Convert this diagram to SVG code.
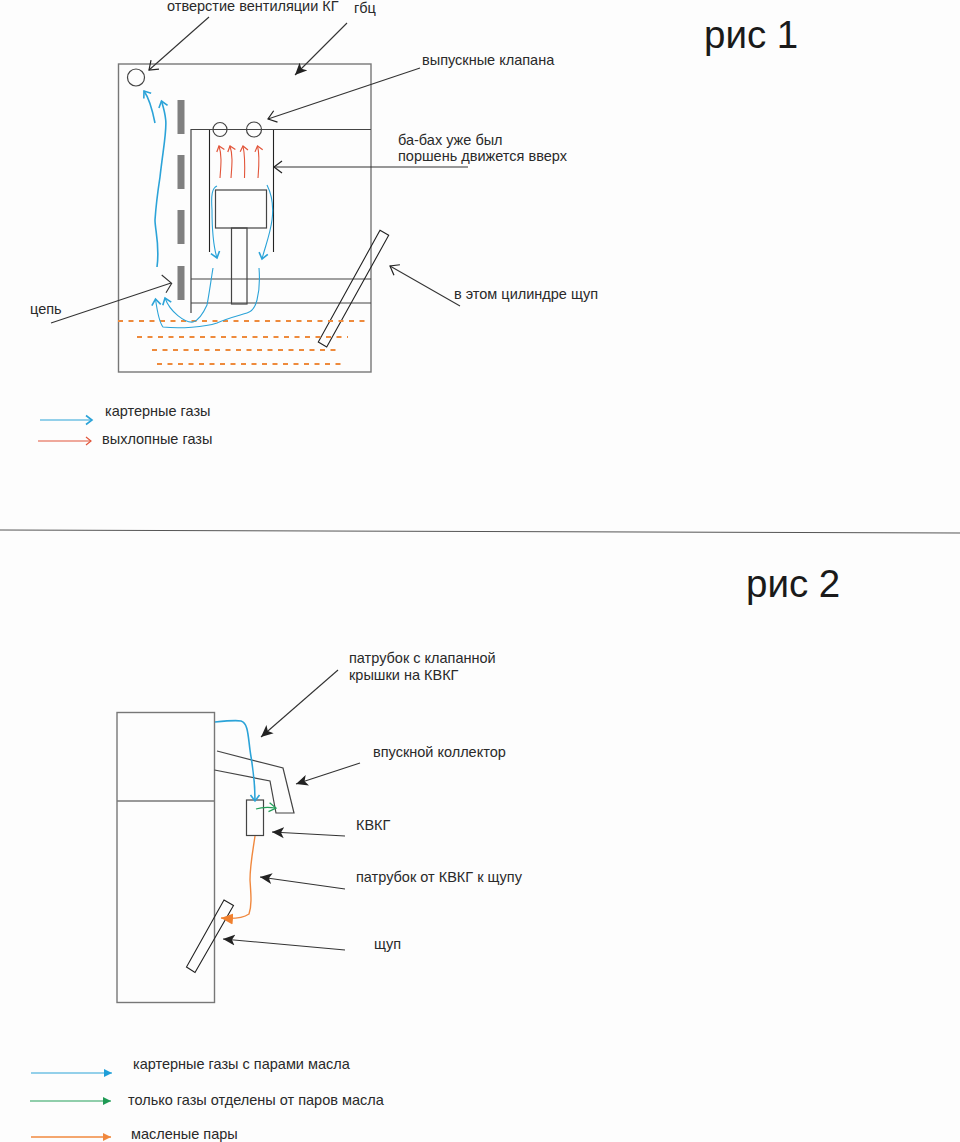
<svg xmlns="http://www.w3.org/2000/svg" width="960" height="1142" viewBox="0 0 960 1142">
<style>
text{font-family:"Liberation Sans",Arial,sans-serif;font-size:14.5px;fill:#2a2a2a}
.title{font-size:38.5px;fill:#1a1a1a}
.box{fill:none;stroke:#777;stroke-width:1.4}
.ln{fill:none;stroke:#444;stroke-width:1.2}
.dk{fill:none;stroke:#222;stroke-width:1.1}
.ptr{fill:none;stroke:#333;stroke-width:1.1}
.blue{fill:none;stroke:#2ba3d8;stroke-width:1.1}
.blue2{fill:none;stroke:#2ba3d8;stroke-width:1.6}
.red{fill:none;stroke:#e2553a;stroke-width:1.1}
.green{fill:none;stroke:#25a05a;stroke-width:1.2}
.orange{fill:none;stroke:#f0883e;stroke-width:1.4}
.oil{fill:none;stroke:#ee8a3c;stroke-width:2.2;stroke-dasharray:5 5.5}
.bar{fill:#808080}
</style>
<defs>
<marker id="tip" markerUnits="userSpaceOnUse" markerWidth="14" markerHeight="12" refX="12" refY="6" orient="auto"><path d="M0,0.5 L12,6 L0,11.5 L3,6 Z" fill="#222"/></marker>
<marker id="open" markerUnits="userSpaceOnUse" markerWidth="14" markerHeight="14" refX="11" refY="7" orient="auto"><path d="M3,1 L11,7 L3,13" fill="none" stroke="#222" stroke-width="1.2"/></marker>
<marker id="ob" markerUnits="userSpaceOnUse" markerWidth="12" markerHeight="12" refX="9" refY="6" orient="auto"><path d="M3,1.5 L9,6 L3,10.5" fill="none" stroke="#2ba3d8" stroke-width="1.6"/></marker>
<marker id="or" markerUnits="userSpaceOnUse" markerWidth="10" markerHeight="10" refX="7" refY="5" orient="auto"><path d="M2,1 L7,5 L2,9" fill="none" stroke="#e2553a" stroke-width="1.2"/></marker>
<marker id="og" markerUnits="userSpaceOnUse" markerWidth="12" markerHeight="12" refX="9" refY="6" orient="auto"><path d="M2,1.5 L9,6 L2,10.5" fill="none" stroke="#25a05a" stroke-width="1.3"/></marker>
<marker id="fb" markerUnits="userSpaceOnUse" markerWidth="10" markerHeight="10" refX="8" refY="5" orient="auto"><path d="M0,1 L8,5 L0,9 Z" fill="#1f9ed8"/></marker>
<marker id="fg" markerUnits="userSpaceOnUse" markerWidth="10" markerHeight="10" refX="8" refY="5" orient="auto"><path d="M0,1 L8,5 L0,9 Z" fill="#1f9a55"/></marker>
<marker id="fo" markerUnits="userSpaceOnUse" markerWidth="10" markerHeight="10" refX="8" refY="5" orient="auto"><path d="M0,1 L8,5 L0,9 Z" fill="#f0883e"/></marker>
<marker id="fo2" markerUnits="userSpaceOnUse" markerWidth="14" markerHeight="14" refX="12" refY="7" orient="auto"><path d="M0,1.5 L12,7 L0,12.5 Z" fill="#f0802e"/></marker>
</defs>
<rect width="960" height="1142" fill="#fdfdfd"/>

<g id="engine-1">
<rect class="box" x="118.5" y="64" width="252.5" height="308"/>
<circle class="ln" cx="136" cy="77.5" r="8.5"/>
<rect class="bar" x="177.5" y="100" width="7" height="34"/>
<rect class="bar" x="177.5" y="155" width="7" height="34"/>
<rect class="bar" x="177.5" y="210" width="7" height="34"/>
<rect class="bar" x="177.5" y="266" width="7" height="34"/>
<path class="ln" d="M191,313V129.5H371"/>
<path class="dk" d="M209.5,130V252M273.5,130V252"/>
<circle class="ln" cx="220" cy="129.5" r="7"/>
<circle class="ln" cx="254" cy="129.5" r="7.5"/>
<rect class="ln" x="215.5" y="190" width="51" height="38"/>
<rect class="ln" x="231.5" y="228" width="15.5" height="76"/>
<path class="ln" d="M191,279H371M191,303H371"/>
<polygon class="dk" points="380,230.3 388.7,235.3 326.7,347 318.3,342"/>
</g>

<g id="oil-level">
<path class="oil" d="M118,321H365M137,337H348M152,350H341M157,364H341"/>
</g>

<g id="engine-2">
<rect class="box" x="117" y="712.5" width="97.5" height="290"/>
<path class="box" d="M117,801H214.5"/>
<path class="ln" d="M217,751L283,768L294,813H276L270,781L214.5,770"/>
<rect class="ln" x="246.5" y="800" width="17" height="35.5"/>
<polygon class="dk" points="224,900 233.5,905.5 195,972.5 186.5,967"/>
</g>

<g id="connectors">
<path class="ptr" marker-end="url(#open)" d="M209,17L149,70"/>
<path class="ptr" marker-end="url(#tip)" d="M347,23L295,75"/>
<path class="ptr" marker-end="url(#open)" d="M420,68L268,119"/>
<path class="ptr" marker-end="url(#open)" d="M468,167H274"/>
<path class="ptr" marker-end="url(#open)" d="M460,306L390,266"/>
<path class="ptr" d="M51,323L171,283M161.7,275L171.7,283.3L166,292.7"/>

<path class="blue2" marker-end="url(#ob)" d="M155,123C152,108 149,98 144,91"/>
<path class="blue2" marker-end="url(#ob)" d="M157,267C160,245 155,230 155,220C156,205 158,190 160,177C163,150 167,130 165.7,120C165,112 163,106 161.5,101"/>
<path class="blue" marker-end="url(#ob)" d="M217,186C212,188 211,195 212,210C212,225 213,245 217,258"/>
<path class="blue" marker-end="url(#ob)" d="M267,185C272,195 274,205 272,220C270,235 265,247 262,259"/>
<path class="blue" marker-end="url(#ob)" d="M213,268C211,280 209,295 207,305C202,316 197,321 193,322C185,323 170,312 165,298"/>
<path class="blue" marker-end="url(#ob)" d="M259,268C260,280 259,292 257,300C255,308 251,312 247,313C237,316 228,318 217,323C205,327 180,329 163,327C159,322 157,310 155.5,299"/>

<path class="red" marker-end="url(#or)" d="M220,178C221,165 222,155 219,146"/>
<path class="red" marker-end="url(#or)" d="M231,178C232,165 233,155 230,146"/>
<path class="red" marker-end="url(#or)" d="M244.500,178C245,165 245,155 243,146"/>
<path class="red" marker-end="url(#or)" d="M258,178C259,165 260,155 257.500,146"/>

<path class="blue" marker-end="url(#ob)" d="M40,420H92"/>
<path class="red" marker-end="url(#or)" d="M38,441H91"/>

<path class="ptr" marker-end="url(#tip)" d="M338,670L261,737"/>
<path class="ptr" marker-end="url(#tip)" d="M360,763L296,784"/>
<path class="ptr" marker-end="url(#tip)" d="M345,836L272,832"/>
<path class="ptr" marker-end="url(#tip)" d="M345,889L260,877"/>
<path class="ptr" marker-end="url(#tip)" d="M345,950L223,939"/>

<path class="blue2" marker-end="url(#ob)" d="M215,722C225,721 236,720 241,721C248,723 248,735 250,750C252,765 255,775 255,801"/>
<path class="green" marker-end="url(#og)" d="M256,809C262,807 268,807 276,808"/>
<path class="orange" marker-end="url(#fo2)" d="M255,836C253,850 250,865 250,880C251,895 252,905 249,914C243,918 232,919 221,918"/>

<path class="blue" marker-end="url(#fb)" d="M31,1073H112"/>
<path class="green" marker-end="url(#fg)" d="M30,1101H111"/>
<path class="orange" marker-end="url(#fo)" d="M31,1137H111"/>

<path fill="none" stroke="#555" stroke-width="1" d="M0,530L960,533"/>
</g>

<g id="labels">
<text class="title" x="704" y="48">рис 1</text>
<text class="title" x="746" y="597">рис 2</text>
<text x="167" y="11">отверстие вентиляции КГ</text>
<text x="354" y="13">гбц</text>
<text x="422" y="65">выпускные клапана</text>
<text x="398" y="145">ба-бах уже был</text>
<text x="398" y="161">поршень движется вверх</text>
<text x="454" y="299">в этом цилиндре щуп</text>
<text x="30" y="314">цепь</text>
<text x="105" y="416">картерные газы</text>
<text x="102" y="444">выхлопные газы</text>
<text x="349" y="663">патрубок с клапанной</text>
<text x="349" y="680">крышки на КВКГ</text>
<text x="373" y="757">впускной коллектор</text>
<text x="356" y="830">КВКГ</text>
<text x="356" y="882">патрубок от КВКГ к щупу</text>
<text x="374" y="949">щуп</text>
<text x="133" y="1069">картерные газы с парами масла</text>
<text x="128" y="1105">только газы отделены от паров масла</text>
<text x="131" y="1139">масленые пары</text>
</g>
</svg>
